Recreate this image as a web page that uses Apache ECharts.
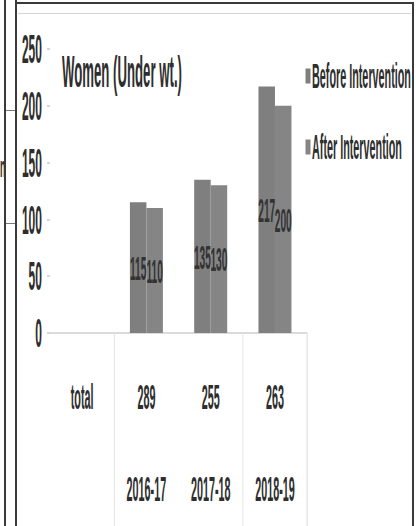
<!DOCTYPE html>
<html>
<head>
<meta charset="utf-8">
<script src="https://cdn.jsdelivr.net/npm/echarts@6/dist/echarts.min.js"></script>
<style>
  html, body { margin: 0; padding: 0; background: #fff; overflow: hidden; }
  #wrap { position: relative; width: 419px; height: 526px; overflow: hidden; background: #fff; }
  /* the chart is laid out wide and squeezed horizontally to get the tall, narrow lettering */
  #chart { position: absolute; left: 0; top: 0; width: 1397px; height: 526px; transform: scaleX(0.3); transform-origin: 0 0; }
  .rule { position: absolute; background: #3a3a3a; }
</style>
</head>
<body>
<div id="wrap">
  <div id="chart"></div>
  <div class="rule" style="left:4px;top:0;width:2px;height:526px;"></div>
  <div class="rule" style="left:15px;top:0;width:2px;height:526px;"></div>
  <div class="rule" style="left:15px;top:2px;width:399px;height:2px;"></div>
  <div class="rule" style="left:412px;top:2px;width:2px;height:524px;"></div>
  <div class="rule" style="left:18px;top:13px;width:393px;height:1px;background:#d4d4d4;"></div>
  <div class="rule" style="left:6px;top:110px;width:9px;height:1px;background:#777;"></div>
  <div class="rule" style="left:6px;top:223px;width:9px;height:1px;background:#777;"></div>
  <!-- closing edge of the category table under the axis -->
  <div class="rule" style="left:307px;top:333px;width:1px;height:193px;background:#e6e6e6;"></div>
</div>
<script>
// category rows: totals on the first line, school years underneath
const totals = ['total', '289', '255', '263'];
const years = ['', '2016-17', '2017-18', '2018-19'];
const seriesNames = ['Before Intervention', 'After Intervention'];
const beforeValues = [null, 115, 135, 217];
const afterValues = [null, 110, 130, 200];
const yTicks = [0, 50, 100, 150, 200, 250];

const S = 0.3; // horizontal squeeze factor of #chart
const FONT = '"Liberation Sans", Arial, sans-serif';
const INK = '#2e2e2e';

const categories = totals.map((t, i) => t + '\n\n' + years[i]);

const chart = echarts.init(document.getElementById('chart'), null, { renderer: 'svg' });

chart.setOption({
  animation: false,
  backgroundColor: '#fff',
  title: {
    text: 'Women (Under wt.)',
    left: 62 / S,
    top: 50,
    padding: 0,
    textStyle: { fontFamily: FONT, fontSize: 44, fontWeight: 'bold', color: INK }
  },
  legend: {
    orient: 'vertical',
    left: 304 / S,
    top: 53,
    itemGap: 35,
    itemWidth: 5 / S,
    itemHeight: 15,
    icon: 'rect',
    data: seriesNames,
    textStyle: { fontFamily: FONT, fontSize: 36, fontWeight: 'bold', color: INK }
  },
  grid: {
    left: 50 / S,
    right: (419 - 307) / S,
    top: 49,
    bottom: 526 - 333,
    containLabel: false
  },
  xAxis: {
    type: 'category',
    data: categories,
    axisLine: { show: true, lineStyle: { color: '#cfcfcf', width: 1.5 } },
    axisTick: {
      show: true,
      length: 193,
      interval: function (index) { return index === 1 || index === 3; },
      lineStyle: { color: '#e4e4e4', width: 1 / S }
    },
    axisLabel: {
      interval: 0,
      margin: 41,
      fontFamily: FONT,
      fontSize: 36,
      fontWeight: 'bold',
      color: INK,
      lineHeight: 46
    }
  },
  yAxis: {
    type: 'value',
    min: yTicks[0],
    max: yTicks[yTicks.length - 1],
    interval: yTicks[1] - yTicks[0],
    axisLine: { show: false },
    axisTick: { show: true, length: 10, lineStyle: { color: '#c8c8c8', width: 1.5 } },
    splitLine: { show: false },
    axisLabel: {
      margin: 27,
      fontFamily: FONT,
      fontSize: 40,
      fontWeight: 'bold',
      color: INK
    }
  },
  series: [
    {
      name: seriesNames[0],
      type: 'bar',
      data: beforeValues,
      barWidth: 16.5 / S,
      barGap: '0%',
      itemStyle: { color: '#7f7f7f' },
      label: {
        show: true,
        position: 'inside',
        fontFamily: FONT,
        fontSize: 34,
        fontWeight: 'bold',
        color: '#333'
      }
    },
    {
      name: seriesNames[1],
      type: 'bar',
      data: afterValues,
      barWidth: 16.5 / S,
      barGap: '0%',
      itemStyle: { color: '#858585' },
      label: {
        show: true,
        position: 'inside',
        fontFamily: FONT,
        fontSize: 34,
        fontWeight: 'bold',
        color: '#333'
      }
    }
  ],
  graphic: [
    {
      type: 'text',
      left: 0,
      top: 152,
      style: { text: 'n', fontFamily: FONT, fontSize: 30, fontWeight: 'bold', fill: INK }
    }
  ]
});
</script>
</body>
</html>
